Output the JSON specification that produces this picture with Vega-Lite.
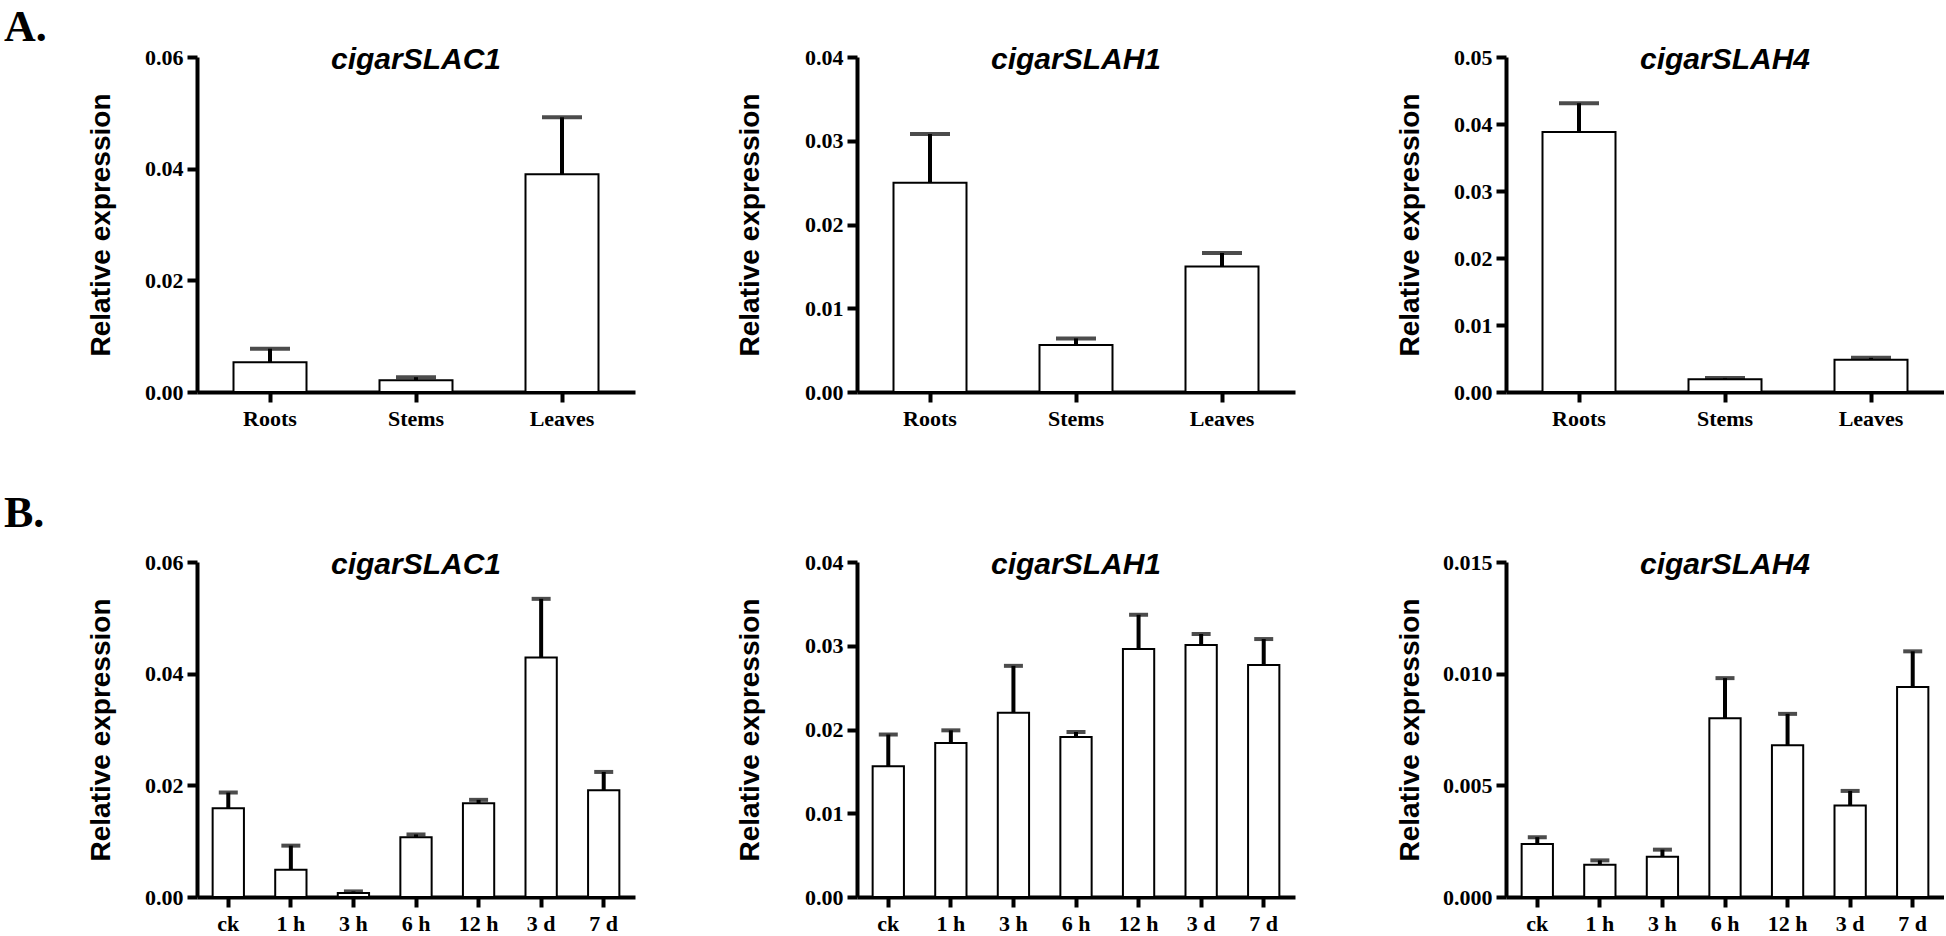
{
  "$schema": "https://vega.github.io/schema/vega-lite/v6.json",
  "background": "white",
  "padding": {"left": 4, "top": 5, "right": 0, "bottom": 0},
  "datasets": {
    "a1": [
      {"tissue": "Roots", "mean": 0.00534, "upper": 0.00775},
      {"tissue": "Stems", "mean": 0.00212, "upper": 0.00265},
      {"tissue": "Leaves", "mean": 0.0390, "upper": 0.0492}
    ],
    "a2": [
      {"tissue": "Roots", "mean": 0.0250, "upper": 0.0308},
      {"tissue": "Stems", "mean": 0.0056, "upper": 0.0064},
      {"tissue": "Leaves", "mean": 0.0150, "upper": 0.0166}
    ],
    "a3": [
      {"tissue": "Roots", "mean": 0.0388, "upper": 0.0431},
      {"tissue": "Stems", "mean": 0.0019, "upper": 0.0021},
      {"tissue": "Leaves", "mean": 0.0048, "upper": 0.0051}
    ],
    "b1": [
      {"time": "ck", "mean": 0.0159, "upper": 0.0187},
      {"time": "1 h", "mean": 0.0049, "upper": 0.0092},
      {"time": "3 h", "mean": 0.0007, "upper": 0.0010},
      {"time": "6 h", "mean": 0.0107, "upper": 0.0112},
      {"time": "12 h", "mean": 0.0168, "upper": 0.0174},
      {"time": "3 d", "mean": 0.0429, "upper": 0.0534},
      {"time": "7 d", "mean": 0.0191, "upper": 0.0224}
    ],
    "b2": [
      {"time": "ck", "mean": 0.0156, "upper": 0.0194},
      {"time": "1 h", "mean": 0.0184, "upper": 0.0199},
      {"time": "3 h", "mean": 0.0220, "upper": 0.0276},
      {"time": "6 h", "mean": 0.0191, "upper": 0.0197},
      {"time": "12 h", "mean": 0.0296, "upper": 0.0337},
      {"time": "3 d", "mean": 0.0301, "upper": 0.0314},
      {"time": "7 d", "mean": 0.0277, "upper": 0.0308}
    ],
    "b3": [
      {"time": "ck", "mean": 0.00237, "upper": 0.00268},
      {"time": "1 h", "mean": 0.00144, "upper": 0.00164},
      {"time": "3 h", "mean": 0.0018, "upper": 0.00212},
      {"time": "6 h", "mean": 0.0080, "upper": 0.0098},
      {"time": "12 h", "mean": 0.0068, "upper": 0.0082},
      {"time": "3 d", "mean": 0.0041, "upper": 0.00475},
      {"time": "7 d", "mean": 0.0094, "upper": 0.0110}
    ]
  },
  "vconcat": [
    {
      "title": {"text": "A.", "anchor": "start", "frame": "bounds", "font": "Liberation Serif", "fontSize": 44, "fontWeight": "bold", "color": "black", "baseline": "alphabetic", "offset": -40, "dx": -83},
      "spacing": 101,
      "hconcat": [
        {
          "width": 438, "height": 335,
          "encoding": {"x": {"field": "tissue", "type": "nominal", "sort": null, "scale": {"paddingInner": 0.5, "paddingOuter": 0.25}}},
          "layer": [
            {"data": {"name": "a1"}, "mark": {"type": "bar", "fill": "white", "stroke": "black", "strokeWidth": 2},
             "encoding": {"y": {"field": "mean", "type": "quantitative", "scale": {"domain": [0, 0.06], "nice": false}, "axis": {"values": [0, 0.02, 0.04, 0.06], "format": ".2f"}, "title": "Relative expression"}}},
            {"data": {"name": "a1"}, "mark": {"type": "rule", "strokeWidth": 4, "color": "black"},
             "encoding": {"y": {"field": "mean", "type": "quantitative", "title": "Relative expression"}, "y2": {"field": "upper"}}},
            {"data": {"name": "a1"}, "mark": {"type": "tick", "thickness": 4, "size": 40, "color": "black"},
             "encoding": {"y": {"field": "upper", "type": "quantitative", "title": "Relative expression"}}},
            {"data": {"values": [{"gene": "cigarSLAC1", "tissue": "Stems", "pos": 0.05785}]},
             "mark": {"type": "text", "font": "Liberation Sans", "fontStyle": "italic", "fontWeight": "bold", "fontSize": 30, "color": "black", "baseline": "alphabetic", "align": "center"},
             "encoding": {"text": {"field": "gene"}, "y": {"field": "pos", "type": "quantitative", "title": "Relative expression"}}}
          ]
        },
        {
          "width": 438, "height": 335,
          "encoding": {"x": {"field": "tissue", "type": "nominal", "sort": null, "scale": {"paddingInner": 0.5, "paddingOuter": 0.25}}},
          "layer": [
            {"data": {"name": "a2"}, "mark": {"type": "bar", "fill": "white", "stroke": "black", "strokeWidth": 2},
             "encoding": {"y": {"field": "mean", "type": "quantitative", "scale": {"domain": [0, 0.04], "nice": false}, "axis": {"values": [0, 0.01, 0.02, 0.03, 0.04], "format": ".2f", "titleX": -99}, "title": "Relative expression"}}},
            {"data": {"name": "a2"}, "mark": {"type": "rule", "strokeWidth": 4, "color": "black"},
             "encoding": {"y": {"field": "mean", "type": "quantitative", "title": "Relative expression"}, "y2": {"field": "upper"}}},
            {"data": {"name": "a2"}, "mark": {"type": "tick", "thickness": 4, "size": 40, "color": "black"},
             "encoding": {"y": {"field": "upper", "type": "quantitative", "title": "Relative expression"}}},
            {"data": {"values": [{"gene": "cigarSLAH1", "tissue": "Stems", "pos": 0.03857}]},
             "mark": {"type": "text", "font": "Liberation Sans", "fontStyle": "italic", "fontWeight": "bold", "fontSize": 30, "color": "black", "baseline": "alphabetic", "align": "center"},
             "encoding": {"text": {"field": "gene"}, "y": {"field": "pos", "type": "quantitative", "title": "Relative expression"}}}
          ]
        },
        {
          "width": 438, "height": 335,
          "encoding": {"x": {"field": "tissue", "type": "nominal", "sort": null, "scale": {"paddingInner": 0.5, "paddingOuter": 0.25}}},
          "layer": [
            {"data": {"name": "a3"}, "mark": {"type": "bar", "fill": "white", "stroke": "black", "strokeWidth": 2},
             "encoding": {"y": {"field": "mean", "type": "quantitative", "scale": {"domain": [0, 0.05], "nice": false}, "axis": {"values": [0, 0.01, 0.02, 0.03, 0.04, 0.05], "format": ".2f"}, "title": "Relative expression"}}},
            {"data": {"name": "a3"}, "mark": {"type": "rule", "strokeWidth": 4, "color": "black"},
             "encoding": {"y": {"field": "mean", "type": "quantitative", "title": "Relative expression"}, "y2": {"field": "upper"}}},
            {"data": {"name": "a3"}, "mark": {"type": "tick", "thickness": 4, "size": 40, "color": "black"},
             "encoding": {"y": {"field": "upper", "type": "quantitative", "title": "Relative expression"}}},
            {"data": {"values": [{"gene": "cigarSLAH4", "tissue": "Stems", "pos": 0.0482}]},
             "mark": {"type": "text", "font": "Liberation Sans", "fontStyle": "italic", "fontWeight": "bold", "fontSize": 30, "color": "black", "baseline": "alphabetic", "align": "center"},
             "encoding": {"text": {"field": "gene"}, "y": {"field": "pos", "type": "quantitative", "title": "Relative expression"}}}
          ]
        }
      ]
    },
    {
      "title": {"text": "B.", "anchor": "start", "frame": "bounds", "font": "Liberation Serif", "fontSize": 44, "fontWeight": "bold", "color": "black", "baseline": "alphabetic", "offset": -21, "dx": -83},
      "spacing": 101,
      "hconcat": [
        {
          "width": 438, "height": 335,
          "encoding": {"x": {"field": "time", "type": "nominal", "sort": null, "scale": {"paddingInner": 0.5, "paddingOuter": 0.25}}},
          "layer": [
            {"data": {"name": "b1"}, "mark": {"type": "bar", "fill": "white", "stroke": "black", "strokeWidth": 2},
             "encoding": {"y": {"field": "mean", "type": "quantitative", "scale": {"domain": [0, 0.06], "nice": false}, "axis": {"values": [0, 0.02, 0.04, 0.06], "format": ".2f"}, "title": "Relative expression"}}},
            {"data": {"name": "b1"}, "mark": {"type": "rule", "strokeWidth": 4, "color": "black"},
             "encoding": {"y": {"field": "mean", "type": "quantitative", "title": "Relative expression"}, "y2": {"field": "upper"}}},
            {"data": {"name": "b1"}, "mark": {"type": "tick", "thickness": 4, "size": 19, "color": "black"},
             "encoding": {"y": {"field": "upper", "type": "quantitative", "title": "Relative expression"}}},
            {"data": {"values": [{"gene": "cigarSLAC1", "time": "6 h", "pos": 0.05785}]},
             "mark": {"type": "text", "font": "Liberation Sans", "fontStyle": "italic", "fontWeight": "bold", "fontSize": 30, "color": "black", "baseline": "alphabetic", "align": "center"},
             "encoding": {"text": {"field": "gene"}, "y": {"field": "pos", "type": "quantitative", "title": "Relative expression"}}}
          ]
        },
        {
          "width": 438, "height": 335,
          "encoding": {"x": {"field": "time", "type": "nominal", "sort": null, "scale": {"paddingInner": 0.5, "paddingOuter": 0.25}}},
          "layer": [
            {"data": {"name": "b2"}, "mark": {"type": "bar", "fill": "white", "stroke": "black", "strokeWidth": 2},
             "encoding": {"y": {"field": "mean", "type": "quantitative", "scale": {"domain": [0, 0.04], "nice": false}, "axis": {"values": [0, 0.01, 0.02, 0.03, 0.04], "format": ".2f", "titleX": -99}, "title": "Relative expression"}}},
            {"data": {"name": "b2"}, "mark": {"type": "rule", "strokeWidth": 4, "color": "black"},
             "encoding": {"y": {"field": "mean", "type": "quantitative", "title": "Relative expression"}, "y2": {"field": "upper"}}},
            {"data": {"name": "b2"}, "mark": {"type": "tick", "thickness": 4, "size": 19, "color": "black"},
             "encoding": {"y": {"field": "upper", "type": "quantitative", "title": "Relative expression"}}},
            {"data": {"values": [{"gene": "cigarSLAH1", "time": "6 h", "pos": 0.03857}]},
             "mark": {"type": "text", "font": "Liberation Sans", "fontStyle": "italic", "fontWeight": "bold", "fontSize": 30, "color": "black", "baseline": "alphabetic", "align": "center"},
             "encoding": {"text": {"field": "gene"}, "y": {"field": "pos", "type": "quantitative", "title": "Relative expression"}}}
          ]
        },
        {
          "width": 438, "height": 335,
          "encoding": {"x": {"field": "time", "type": "nominal", "sort": null, "scale": {"paddingInner": 0.5, "paddingOuter": 0.25}}},
          "layer": [
            {"data": {"name": "b3"}, "mark": {"type": "bar", "fill": "white", "stroke": "black", "strokeWidth": 2},
             "encoding": {"y": {"field": "mean", "type": "quantitative", "scale": {"domain": [0, 0.015], "nice": false}, "axis": {"values": [0, 0.005, 0.01, 0.015], "format": ".3f"}, "title": "Relative expression"}}},
            {"data": {"name": "b3"}, "mark": {"type": "rule", "strokeWidth": 4, "color": "black"},
             "encoding": {"y": {"field": "mean", "type": "quantitative", "title": "Relative expression"}, "y2": {"field": "upper"}}},
            {"data": {"name": "b3"}, "mark": {"type": "tick", "thickness": 4, "size": 19, "color": "black"},
             "encoding": {"y": {"field": "upper", "type": "quantitative", "title": "Relative expression"}}},
            {"data": {"values": [{"gene": "cigarSLAH4", "time": "6 h", "pos": 0.01446}]},
             "mark": {"type": "text", "font": "Liberation Sans", "fontStyle": "italic", "fontWeight": "bold", "fontSize": 30, "color": "black", "baseline": "alphabetic", "align": "center"},
             "encoding": {"text": {"field": "gene"}, "y": {"field": "pos", "type": "quantitative", "title": "Relative expression"}}}
          ]
        }
      ]
    }
  ],
  "spacing": 62,
  "config": {
    "view": {"stroke": null},
    "axis": {
      "domainColor": "black", "domainWidth": 4, "tickColor": "black", "tickWidth": 4, "tickSize": 10,
      "labelFont": "Liberation Serif", "labelFontWeight": "bold", "labelFontSize": 22, "labelColor": "black",
      "titleFont": "Liberation Sans", "titleFontWeight": "bold", "titleFontSize": 28, "titleColor": "black",
      "grid": false
    },
    "axisX": {"labelAngle": 0, "title": null, "labelPadding": 6},
    "axisY": {"labelPadding": 4, "titleX": -88, "titleBaseline": "alphabetic", "titleAngle": -90}
  }
}
